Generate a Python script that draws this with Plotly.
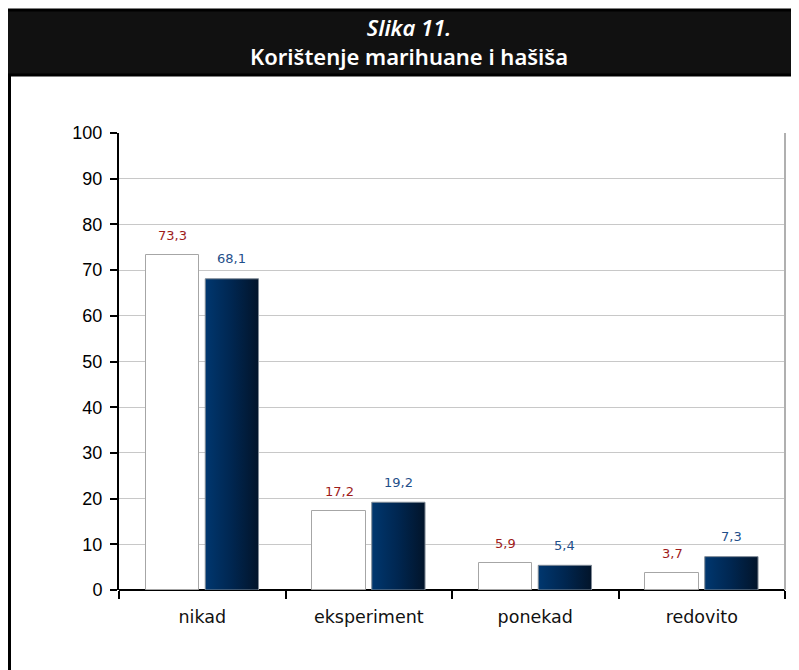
"""Slika 11. Korištenje marihuane i hašiša - grouped bar chart."""

import plotly.graph_objects as go

# Data
categories = ["nikad", "eksperiment", "ponekad", "redovito"]
series_a = [73.3, 17.2, 5.9, 3.7]  # white bars
series_b = [68.1, 19.2, 5.4, 7.3]  # dark gradient bars
y_ticks = list(range(0, 101, 10))

TITLE_1 = "Slika 11."
TITLE_2 = "Korištenje marihuane i hašiša"

# Geometry of the figure (pixels); the page body adds an 8px offset
W, H = 791, 662
M_L, M_R, M_T, M_B = 111, 14, 125, 80
PLOT_W = W - M_L - M_R
PLOT_H = H - M_T - M_B

BAR_W = 0.32
BAR_GAP = 0.018

RED = "#9e1b1b"
BLUE = "#1f4f8a"


def px_x(px: float) -> float:
    """Figure pixel x -> paper x."""
    return (px - M_L) / PLOT_W


def px_y(py: float) -> float:
    """Figure pixel y -> paper y."""
    return (H - M_B - py) / PLOT_H


def fmt(v: float) -> str:
    return f"{v:.1f}".replace(".", ",")


fig = go.Figure()

# white bars
fig.add_trace(
    go.Bar(
        x=list(range(len(categories))),
        y=series_a,
        width=BAR_W,
        offset=-(BAR_W + BAR_GAP),
        marker={"color": "white", "line": {"color": "#a6a6a6", "width": 1}},
        hoverinfo="skip",
        showlegend=False,
    )
)

# dark bars with horizontal gradient
for i, v in enumerate(series_b):
    x0 = i + BAR_GAP
    x1 = x0 + BAR_W
    fig.add_trace(
        go.Scatter(
            x=[x0, x0, x1, x1, x0],
            y=[0, v, v, 0, 0],
            mode="lines",
            fill="toself",
            fillgradient={
                "type": "horizontal",
                "colorscale": [[0, "#00376f"], [0.5, "#002650"], [1, "#02142a"]],
            },
            line={"color": "#7f8a96", "width": 1},
            hoverinfo="skip",
            showlegend=False,
        )
    )

# value labels
for i, (a, b) in enumerate(zip(series_a, series_b)):
    fig.add_annotation(
        x=i - BAR_GAP - BAR_W / 2, y=a, text=fmt(a), showarrow=False,
        yshift=20, font={"family": "DejaVu Sans", "size": 13, "color": RED},
    )
    fig.add_annotation(
        x=i + BAR_GAP + BAR_W / 2, y=b, text=fmt(b), showarrow=False,
        yshift=20, font={"family": "DejaVu Sans", "size": 13, "color": BLUE},
    )

# header band and left frame line
fig.add_shape(
    type="rect", xref="paper", yref="paper",
    x0=px_x(-2), x1=px_x(800), y0=px_y(67), y1=px_y(2),
    fillcolor="#111111", line={"color": "black", "width": 3},
)
fig.add_shape(
    type="line", xref="paper", yref="paper",
    x0=px_x(1.5), x1=px_x(1.5), y0=px_y(67), y1=px_y(670),
    line={"color": "black", "width": 3},
)
# right edge of plot area
fig.add_shape(
    type="line", xref="paper", yref="paper",
    x0=1, x1=1, y0=0, y1=1,
    line={"color": "#b0b0b0", "width": 2},
)

fig.add_annotation(
    xref="paper", yref="paper", x=px_x(401), y=px_y(34),
    xanchor="center", yanchor="middle",
    text=f"<i>{TITLE_1}</i><br>{TITLE_2}", showarrow=False,
    font={"family": "Noto Sans", "size": 22, "color": "white", "weight": 600},
    align="center",
)

fig.update_layout(
    width=W,
    height=H,
    margin={"l": M_L, "r": M_R, "t": M_T, "b": M_B},
    paper_bgcolor="white",
    plot_bgcolor="white",
    bargap=0,
    showlegend=False,
)

fig.update_xaxes(
    range=[-0.5, len(categories) - 0.5],
    tickvals=list(range(len(categories))),
    ticktext=categories,
    ticks="",
    showgrid=False,
    zeroline=False,
    showline=False,
    tickfont={"family": "DejaVu Sans", "size": 17.5, "color": "#111111"},
    ticklabelstandoff=14,
    minor={
        "tickvals": [k - 0.5 for k in range(len(categories) + 1)],
        "ticks": "outside",
        "ticklen": 8,
        "tickwidth": 2,
        "tickcolor": "black",
        "showgrid": False,
    },
)

fig.update_yaxes(
    range=[0, 100],
    tickvals=y_ticks,
    ticks="outside",
    ticklen=7,
    tickwidth=2,
    tickcolor="black",
    showline=True,
    linecolor="black",
    linewidth=2,
    showgrid=True,
    gridcolor="#c8c8c8",
    gridwidth=1,
    zeroline=True,
    zerolinecolor="black",
    zerolinewidth=2,
    tickfont={"family": "Liberation Sans", "size": 18, "color": "black"},
    ticklabelstandoff=4,
)

fig.write_html("out.html")
